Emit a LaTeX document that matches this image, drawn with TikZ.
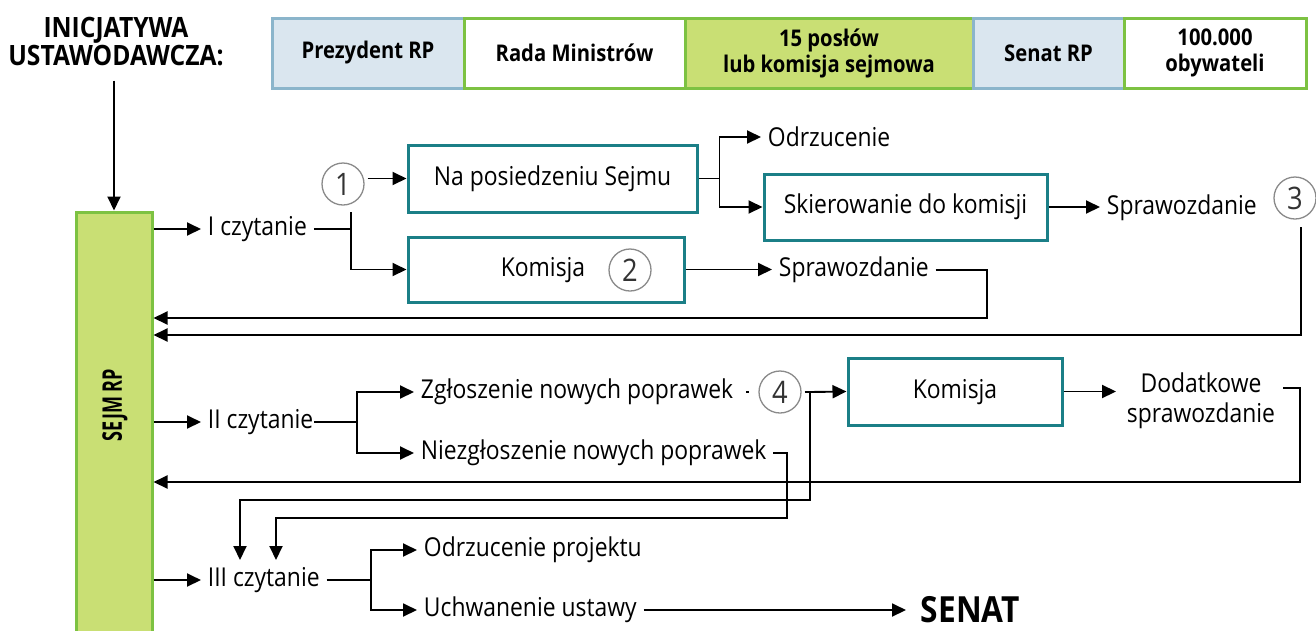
\documentclass[tikz,border=0pt]{standalone}
\usepackage{fontspec}
\setmainfont{Open Sans}[FakeStretch=0.88]
\usetikzlibrary{arrows.meta}
\definecolor{gfill}{HTML}{C9DF74}
\definecolor{gline}{HTML}{7DC242}
\definecolor{bfill}{HTML}{DAE6EF}
\definecolor{bline}{HTML}{8BB5CB}
\definecolor{teal}{HTML}{1B7F87}
\definecolor{cgray}{HTML}{8A8A8A}
\begin{document}
\begin{tikzpicture}[x=1pt,y=-1pt,
  font=\fontsize{26}{30}\selectfont,
  line width=1.9pt,
  arr/.style={-{Triangle[length=14pt,width=13pt]}},
  cell/.style={draw, line width=3pt, minimum height=70pt, inner sep=0pt, align=center, font=\fontsize{23}{26}\selectfont\bfseries},
  gcell/.style={cell, draw=gline, fill=white},
  bcell/.style={cell, draw=bline, fill=bfill},
  pbox/.style={draw=teal, line width=3pt, inner sep=0pt},
  lbl/.style={inner xsep=6pt, inner ysep=2pt, anchor=west},
  num/.style={circle, draw=cgray, line width=1.3pt, minimum size=42pt, inner sep=0pt, text=black!80, font=\fontsize{31}{32}\selectfont}
]
\useasboundingbox (0,0) rectangle (1316,630);
% heading
\node[align=center, font=\fontsize{28}{28}\selectfont\bfseries] (ini) at (116,42) {INICJATYWA\\USTAWODAWCZA:};
% top bar
\node[bcell, minimum width=192pt] (prez) at (368,53) {Prezydent RP};
\node[gcell, minimum width=221pt] (rada) at (574.5,53) {Rada Ministrów};
\node[gcell, fill=gfill, minimum width=288pt] (posl) at (829,53) {15 posłów\\lub komisja sejmowa};
\node[bcell, minimum width=151pt] (sen) at (1048.5,53) {Senat RP};
\node[gcell, minimum width=182pt] (oby) at (1215,53) {100.000\\obywateli};
% Sejm
\node[draw=gline, fill=gfill, line width=3pt, minimum width=76pt, minimum height=428pt, inner sep=0pt] (sejm) at (114,426) {};
\node[rotate=90, inner sep=0pt, font=\fontsize{27}{30}\selectfont\bfseries] (sejmt) at (115,405) {\scalebox{0.76}[1]{SEJM RP}};
\draw[arr, shorten <=10pt] (ini.south -| sejm.north) -- (sejm.north);
% I czytanie
\node[lbl] (c1) at (201,229) {I czytanie};
\node[num] (n1) at (343,184) {1};
\node[pbox, minimum width=289pt, minimum height=67pt] (box1) at (552.5,178.5) {Na posiedzeniu Sejmu};
\node[lbl] (odrz) at (761,137) {Odrzucenie};
\node[pbox, minimum width=283pt, minimum height=66pt] (box2) at (905.5,207) {Skierowanie do komisji};
\node[lbl] (spr1) at (1100,208) {Sprawozdanie};
\node[num] (n3) at (1295,198) {3};
\node[pbox, minimum width=276pt, minimum height=65pt] (box3) at (546,269.5) {};
\node (kom1) at (543,270) {Komisja};
\node[num] (n2) at (630,270) {2};
\node[lbl] (spr2) at (772,270) {Sprawozdanie};
\draw[arr] (sejm.east |- c1.west) -- (c1.west);
\coordinate (j1) at (351,229);
\draw (c1.east) -- (j1);
\draw[arr] (j1 |- 0,212) |- (box3.west);
\draw[arr, shorten <=3pt] (n1.east |- box1.west) -- (box1.west);
\draw (box1.east) -- ++(21,0) coordinate (j2);
\draw[arr] (j2) |- (odrz.west);
\draw[arr] (j2) |- (box2.west);
\draw[arr] (box2.east) -- (box2.east -| spr1.west);
\draw[arr] (box3.east) -- (box3.east -| spr2.west);
\draw[arr] (spr2.east) -| (987,318) -- (sejm.east |- 0,318);
\draw[arr] (1301,227) -- (1301,335) -- (sejm.east |- 0,335);
% II czytanie
\node[lbl, inner xsep=0pt, xshift=6pt] (c2) at (201,422) {II czytanie};
\node[lbl] (zg) at (414,392) {Zgłoszenie nowych poprawek};
\node[lbl] (nz) at (414,453) {Niezgłoszenie nowych poprawek};
\node[num] (n4) at (780,392) {4};
\node[pbox, minimum width=214pt, minimum height=67pt] (box4) at (955,391.5) {};
\node (kom2) at (955,392) {Komisja};
\node[align=center, inner sep=0pt] (dod) at (1201,401) {Dodatkowe\\sprawozdanie};
\draw[arr] (sejm.east |- c2.west) -- ([xshift=-6pt]c2.west);
\draw (c2.east) -- (357,422) coordinate (j3);
\draw[arr] (j3) |- (zg.west);
\draw[arr] (j3) |- (nz.west);
\draw (746,392) -- (749,392);
\draw (n4.east) ++(3,0) -- (810,392) coordinate (j4);
\draw[arr] (j4) -- (box4.west);
\draw[arr] (box4.east) -- ([xshift=-10pt]box4.east -| dod.west);
\draw[arr] (1283,388) -- (1300,388) -- (1300,482) -- (sejm.east |- 0,482);
\draw[arr] (j4) -- (810,500) -- (240,500) -- (240,560);
\draw[arr] (nz.east) -- (787,453) -- (787,518) -- (276,518) -- (276,560);
% III czytanie
\node[lbl] (c3) at (201,580) {III czytanie};
\node[lbl] (odp) at (417,550) {Odrzucenie projektu};
\node[lbl] (uch) at (417,610) {Uchwanenie ustawy};
\node[lbl, font=\fontsize{36}{38}\selectfont\bfseries] (senat) at (914,610) {SENAT};
\draw[arr] (sejm.east |- c3.west) -- (c3.west);
\draw (c3.east) -- (371,580) coordinate (j5);
\draw[arr] (j5) |- (odp.west);
\draw[arr] (j5) |- (uch.west);
\draw[arr] (uch.east) -- ([xshift=-8pt]senat.west);
\end{tikzpicture}
\end{document}
